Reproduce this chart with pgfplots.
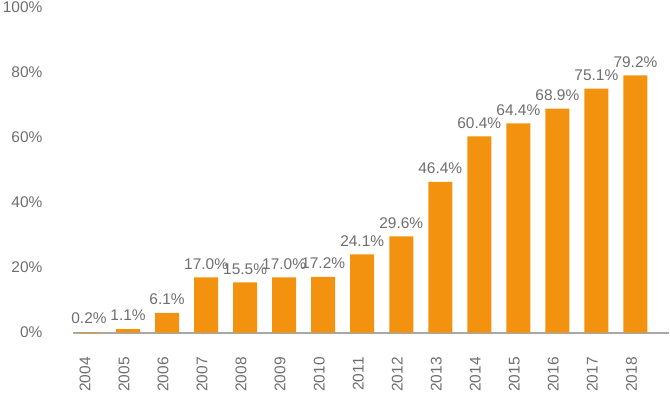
\documentclass[border=0pt]{standalone}
\usepackage{pgfplots}
\pgfplotsset{compat=1.18}
\usepackage{fontspec}
\setmainfont{Liberation Sans}
\definecolor{barorange}{HTML}{F2920F}
\definecolor{txtgray}{HTML}{6E6E70}
\definecolor{axgray}{HTML}{A8A8A8}
\begin{document}
\begin{tikzpicture}
\begin{axis}[
  name=ax, at={(0,0)}, anchor=south west,
  scale only axis,
  width=447pt, height=243.75pt,
  xmin=-0.41, xmax=14.86,
  ymin=0, ymax=100,
  axis x line*=bottom,
  axis y line*=left,
  x axis line style={axgray, line width=1.5pt, -},
  y axis line style={draw=none},
  xtick={0,...,14},
  xticklabels={2004,2005,2006,2007,2008,2009,2010,2011,2012,2013,2014,2015,2016,2017,2018},
  major tick length=0pt,
  xticklabel style={rotate=90, anchor=east, yshift=3pt, xshift=-15pt, font=\fontsize{11.6}{12}\selectfont, text=txtgray},
  ytick={0,20,40,60,80,100},
  yticklabel={\pgfmathprintnumber{\tick}\%},
  yticklabel style={anchor=east, xshift=-19.4pt, font=\fontsize{11.6}{12}\selectfont, text=txtgray},
  /pgf/number format/assume math mode=true,
  clip=false,
  ybar, bar width=18pt,
  nodes near coords={\pgfmathprintnumber[fixed,fixed zerofill,precision=1]{\pgfplotspointmeta}\%},
  every node near coord/.append style={font=\fontsize{11.6}{12}\selectfont, text=txtgray, yshift=2.5pt},
]
\addplot[fill=barorange, draw=none] coordinates {
(0,0.2) (1,1.1) (2,6.1) (3,17.0) (4,15.5) (5,17.0) (6,17.2) (7,24.1)
(8,29.6) (9,46.4) (10,60.4) (11,64.4) (12,68.9) (13,75.1) (14,79.2)};
\end{axis}
\pgfresetboundingbox
\path[use as bounding box] (-54.75pt,-46pt) rectangle (447.75pt,249.5pt);
\end{tikzpicture}
\end{document}
